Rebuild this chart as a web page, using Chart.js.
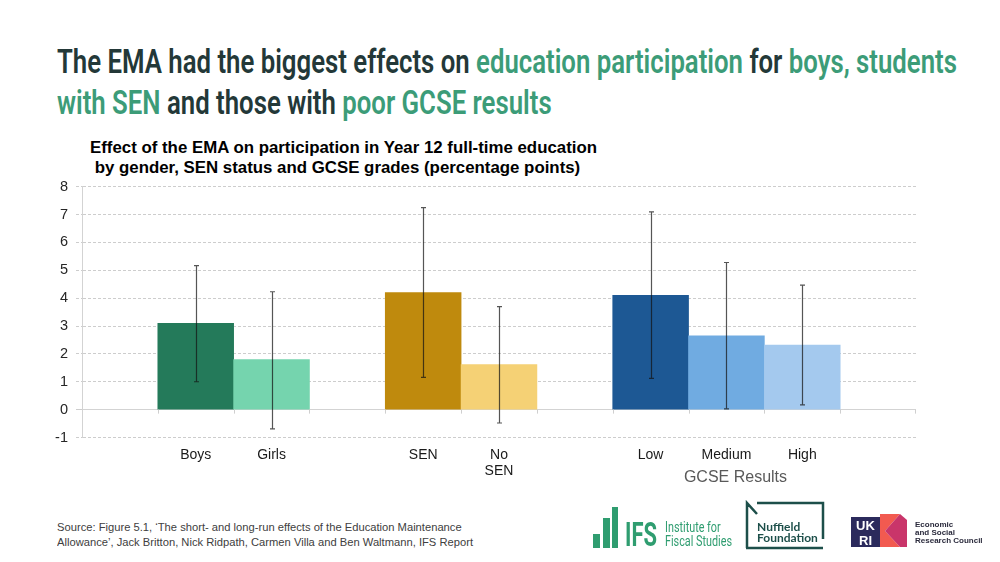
<!DOCTYPE html>
<html>
<head>
<meta charset="utf-8">
<script src="https://cdn.jsdelivr.net/npm/chart.js@4.4.1/dist/chart.umd.min.js"></script>
<style>
  body { margin: 0; width: 1000px; height: 562px; position: relative; overflow: hidden; background: #fff; font-family: "Liberation Sans", Arial, sans-serif; }
  .abs { position: absolute; white-space: nowrap; transform-origin: 0 0; }
  #title { left: 57px; top: 41px; font-family: Roboto, sans-serif; font-weight: 600; font-size: 33px; line-height: 41px; color: #233838; }
  #title .g { color: #3c9c78; }
  #chartTitle { left: 90px; top: 137px; font-weight: bold; font-size: 16.5px; line-height: 20px; color: #000; white-space: pre; }
  #wrap { position: absolute; left: 0; top: 170px; width: 1000px; height: 340px; }
  #source { left: 57px; top: 520px; font-size: 11px; line-height: 15px; color: #404040; }
  .ifs { color: #2f9d70; font-family: Roboto, sans-serif; }
  .nuff { color: #1d4f4a; font-family: Lato, sans-serif; font-weight: bold; font-size: 12px; line-height: 11px; }
  .esrc { color: #2a2a3c; font-family: "Liberation Sans", Arial, sans-serif; font-weight: bold; font-size: 8px; line-height: 8px; }
</style>
</head>
<body>
<div id="title" class="abs"><span id="t1">The EMA had the biggest effects on <span class="g">education participation</span> for <span class="g">boys, students</span></span><br><span class="g">with SEN</span> and those with <span class="g">poor GCSE results</span></div>
<div id="chartTitle" class="abs"><span id="c1">Effect of the EMA on participation in Year 12 full-time education</span>
 by gender, SEN status and GCSE grades (percentage points)</div>
<div id="wrap"><canvas id="chart" width="1000" height="340"></canvas></div>
<div id="source" class="abs"><span id="s1">Source: Figure 5.1, ‘The short- and long-run effects of the Education Maintenance</span><br><span id="s2">Allowance’, Jack Britton, Nick Ridpath, Carmen Villa and Ben Waltmann, IFS Report</span></div>

<svg class="abs" style="left:0;top:0" width="1000" height="562">
  <rect x="593" y="534" width="7" height="14" fill="#2f9d70"/>
  <rect x="603" y="518" width="7" height="30" fill="#2f9d70"/>
  <rect x="612" y="507" width="6" height="41" fill="#2f9d70"/>
  <path d="M747 548 L747 503 L757 514 M757 503 L823 503 L823 539 M746 548 L823 548" fill="none" stroke="#1d4f4a" stroke-width="2.5"/>
  <rect x="851" y="517" width="29" height="30" fill="#2b2a5c"/>
  <polygon points="880,514 900,514 885,531 900,547 880,547" fill="#f25a50"/>
  <polygon points="900,514 907,520 907,547 900,547 885,531" fill="#c9356a"/>
  <text x="865.5" y="530" font-family="Liberation Sans" font-weight="bold" font-size="13" fill="#fff" text-anchor="middle">UK</text>
  <text x="865.5" y="545" font-family="Liberation Sans" font-weight="bold" font-size="13" fill="#fff" text-anchor="middle">RI</text>
</svg>
<div id="ifsBig" class="abs ifs" style="left:625px;top:517px;font-size:34px;line-height:34px;font-weight:bold">IFS</div>
<div id="ifsSmall" class="abs ifs" style="left:665px;top:520px;font-size:15px;line-height:14px"><span id="ifs1">Institute for</span><br><span id="ifs2">Fiscal Studies</span></div>
<div class="abs nuff" style="left:757px;top:521px">Nuffield<br>Foundation</div>
<div class="abs esrc" style="left:915px;top:521px">Economic<br>and Social<br>Research Council</div>

<script>
const categories = ["", "Boys", "Girls", "", "SEN", ["No", "SEN"], "", "Low", "Medium", "High", ""];
const effects = [null, 3.1, 1.8, null, 4.2, 1.62, null, 4.1, 2.65, 2.32, null];
const ciLow = [null, 1.0, -0.69, null, 1.16, -0.48, null, 1.12, 0.03, 0.17, null];
const ciHigh = [null, 5.17, 4.23, null, 7.25, 3.7, null, 7.1, 5.28, 4.47, null];
const barColours = ["", "#247a5a", "#75d4ae", "", "#bf8a0d", "#f5d175", "", "#1d5894", "#70abe1", "#a4c9ee", ""];
const groupTitle = "GCSE Results";
const yMin = -1, yMax = 8;

// squeeze text sideways to the reference width (condensed fonts are not installed)
function fitWidth(el, inner, target) {
  const w = inner.getBoundingClientRect().width;
  el.style.transform = `scaleX(${target / w})`;
}
fitWidth(document.getElementById("title"), document.getElementById("t1"), 900);
fitWidth(document.getElementById("chartTitle"), document.getElementById("c1"), 507);
fitWidth(document.getElementById("ifsBig"), document.getElementById("ifsBig"), 32);
fitWidth(document.getElementById("ifsSmall"), document.getElementById("ifs2"), 67);
fitWidth(document.getElementById("source"), document.getElementById("s2"), 416);

const gridDash = c => (c.tick && c.tick.value === 0) ? [] : [3, 2];

const extras = {
  id: "extras",
  afterDatasetsDraw(chart) {
    const { ctx, scales: { x, y } } = chart;
    const zero = y.getPixelForValue(0);
    ctx.save();

    // small tick marks under the zero line at each category edge
    ctx.strokeStyle = "#cfcfcf";
    ctx.lineWidth = 1;
    ctx.beginPath();
    for (let i = 1; i < categories.length; i++) {
      const e = Math.round((x.getPixelForValue(i - 1) + x.getPixelForValue(i)) / 2) + 0.5;
      ctx.moveTo(e, zero);
      ctx.lineTo(e, zero + 4);
    }
    ctx.moveTo(Math.round(x.right) - 0.5, zero);
    ctx.lineTo(Math.round(x.right) - 0.5, zero + 4);
    ctx.stroke();

    // confidence intervals
    const meta = chart.getDatasetMeta(0);
    ctx.strokeStyle = "rgba(20,20,20,0.72)";
    ctx.lineWidth = 1.2;
    ciLow.forEach((lo, i) => {
      if (lo === null) return;
      const px = Math.round(meta.data[i].x) + 0.5;
      const top = y.getPixelForValue(ciHigh[i]);
      const bot = y.getPixelForValue(lo);
      ctx.beginPath();
      ctx.moveTo(px, top); ctx.lineTo(px, bot);
      ctx.moveTo(px - 2.5, top); ctx.lineTo(px + 2.5, top);
      ctx.moveTo(px - 2.5, bot); ctx.lineTo(px + 2.5, bot);
      ctx.stroke();
    });

    // group label under the GCSE bars
    ctx.fillStyle = "#595959";
    ctx.font = '16px "Liberation Sans", Arial, sans-serif';
    ctx.textAlign = "center";
    ctx.textBaseline = "alphabetic";
    ctx.fillText(groupTitle, x.getPixelForValue(8) + 9, y.bottom + 44);
    ctx.restore();
  }
};

new Chart(document.getElementById("chart"), {
  type: "bar",
  data: {
    labels: categories,
    datasets: [{
      data: effects,
      backgroundColor: barColours,
      borderWidth: 0,
      barPercentage: 1,
      categoryPercentage: 1
    }]
  },
  options: {
    responsive: false,
    animation: false,
    layout: { padding: { left: 0, right: 84, top: 16, bottom: 0 } },
    plugins: { legend: { display: false }, tooltip: { enabled: false }, title: { display: false } },
    scales: {
      x: {
        grid: { display: false, drawTicks: false },
        border: { display: false },
        ticks: {
          color: "#1a1a1a",
          font: { size: 14, family: '"Liberation Sans", Arial, sans-serif', lineHeight: 1.15 },
          padding: 9.5,
          maxRotation: 0,
          autoSkip: false
        },
        afterFit: s => { s.height = 72.5; }
      },
      y: {
        min: yMin,
        max: yMax,
        ticks: {
          stepSize: 1,
          color: "#262626",
          font: { size: 14.5, family: '"Liberation Sans", Arial, sans-serif' },
          padding: 8
        },
        grid: {
          color: c => c.tick.value === 0 ? "#d3d3d3" : "#cdcdcd",
          lineWidth: 1,
          tickLength: 6,
          tickColor: "#cdcdcd",
          tickBorderDash: gridDash
        },
        border: { display: true, color: "#d3d3d3", width: 1, dash: gridDash },
        afterFit: s => { s.width = 82; }
      }
    }
  },
  plugins: [extras]
});
</script>
</body>
</html>
